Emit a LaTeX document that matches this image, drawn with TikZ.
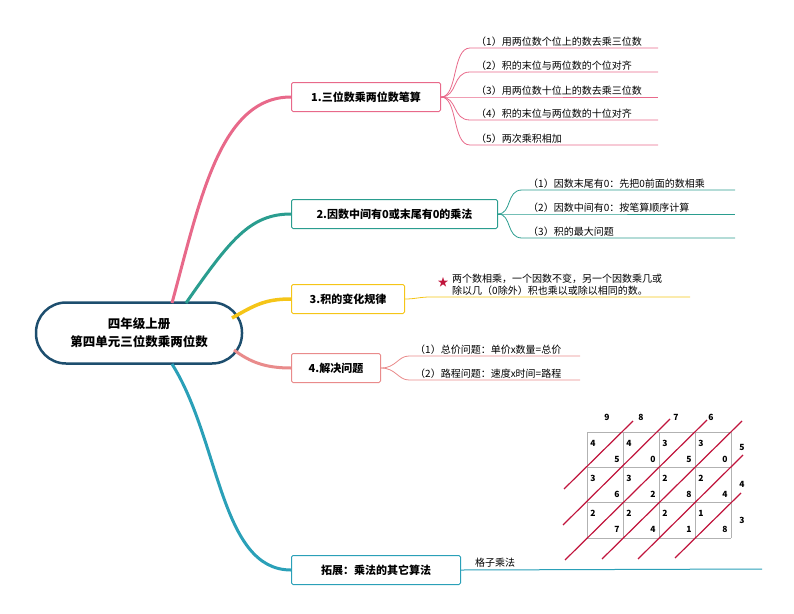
\documentclass[tikz,border=0pt]{standalone}
\usepackage{fontspec}
\setmainfont{Noto Sans CJK SC}
\usetikzlibrary{shapes.geometric}
\definecolor{cpink}{HTML}{E8698A}
\definecolor{cteal}{HTML}{2A9D8F}
\definecolor{cyel}{HTML}{F5C518}
\definecolor{csal}{HTML}{E98B8B}
\definecolor{cblue}{HTML}{2AA0B8}
\definecolor{cnavy}{HTML}{1D4E6E}
\definecolor{cred}{HTML}{C0143C}
\tikzset{
 br/.style={draw=#1,line width=1pt,rounded corners=1.5pt,minimum height=29pt,inner xsep=6pt,font=\fontsize{11}{13}\selectfont\bfseries,anchor=west},
 leaf/.style={font=\fontsize{10}{12}\selectfont,anchor=south west,inner sep=1pt},
 dig/.style={font=\fontsize{8.5}{10}\selectfont\bfseries,inner sep=0pt},
 diag/.style={draw=cred,line width=1.2pt}
}
\begin{document}
\begin{tikzpicture}[x=1pt,y=-1pt]
\useasboundingbox (0,0) rectangle (794,613);
% center
\node[draw=cnavy,line width=2.5pt,rounded corners=30pt,minimum width=206pt,minimum height=61pt,align=center,font=\fontsize{12.5}{18}\selectfont\bfseries] (c) at (139,333) {四年级上册\\第四单元三位数乘两位数};
% branches
\node[br=cpink,minimum width=149pt] (b1) at (291,97) {1.三位数乘两位数笔算};
\node[br=cteal,minimum width=206pt] (b2) at (291,214) {2.因数中间有0或末尾有0的乘法};
\node[br=cyel,minimum width=113pt] (b3) at (291,299) {3.积的变化规律};
\node[br=csal,minimum width=89pt] (b4) at (291,368) {4.解决问题};
\node[br=cblue,minimum width=169pt] (b5) at (291,570) {拓展：乘法的其它算法};
\coordinate (o1) at (172,303); \coordinate (o2) at (186,303);
\coordinate (o3) at (232,318); \coordinate (o4) at (234,350);
\coordinate (o5) at (172,364);
\draw[cpink,line width=3pt] (o1) .. controls (200,200) and (220,97) .. (b1.west);
\draw[cteal,line width=3pt] (o2) .. controls (230,240) and (250,214) .. (b2.west);
\draw[cyel,line width=3.5pt] (o3) .. controls (255,305) and (265,299) .. (b3.west);
\draw[csal,line width=3pt] (o4) .. controls (250,362) and (265,368) .. (b4.west);
\draw[cblue,line width=3pt] (o5) .. controls (220,440) and (220,570) .. (b5.west);
% branch 1 leaves
\foreach \y/\t [count=\i] in {48/（1）用两位数个位上的数去乘三位数,72/（2）积的末位与两位数的个位对齐,97/（3）用两位数十位上的数去乘三位数,120/（4）积的末位与两位数的十位对齐,145/（5）两次乘积相加}{
 \node[leaf] (l1\i) at (475,\y) {\t};
 \coordinate (e1\i) at (470,\y);
 \draw[cpink,line width=0.8pt] (b1.east) .. controls (458,97) and (452,\y) .. (e1\i) -- (658,\y);
}
% branch 2 leaves
\foreach \y/\t [count=\i] in {190/（1）因数末尾有0：先把0前面的数相乘,214/（2）因数中间有0：按笔算顺序计算,238/（3）积的最大问题}{
 \node[leaf] (l2\i) at (527,\y) {\t};
 \coordinate (e2\i) at (522,\y);
 \draw[cteal,line width=0.8pt] (b2.east) .. controls (512,214) and (506,\y) .. (e2\i) -- (735,\y);
}
% branch 3
\node[font=\fontsize{11}{11}\selectfont,text=cred,inner sep=0pt] (star) at (443,282) {★};
\node[leaf,align=left,anchor=south west] (l3) at (451,297) {两个数相乘，一个因数不变，另一个因数乘几或\\除以几（0除外）积也乘以或除以相同的数。};
\coordinate (e3) at (690,297);
\draw[cyel,line width=0.8pt] (b3.east) .. controls (415,299) and (420,297) .. (430,297) -- (e3);
% branch 4
\foreach \y/\t [count=\i] in {356/（1）总价问题：单价x数量=总价,380/（2）路程问题：速度x时间=路程}{
 \node[leaf] (l4\i) at (414,\y) {\t};
 \coordinate (e4\i) at (409,\y);
 \draw[csal,line width=0.8pt] (b4.east) .. controls (396,368) and (398,\y) .. (e4\i) -- (580,\y);
}
% branch 5
\node[leaf] (l5) at (474,569) {格子乘法};
\coordinate (e5) at (762,569);
\draw[cblue,line width=1pt] (b5.east) -- (e5);
% lattice
\foreach \i in {0,...,4}{\draw[gray!60,line width=0.6pt] ({587+36*\i},432) -- ({587+36*\i},538);}
\foreach \j in {0,...,3}{\draw[gray!60,line width=0.6pt] (587,{432+35.33*\j}) -- (731,{432+35.33*\j});}
\foreach \x/\d in {607/9,641/8,676/7,711/6}{\node[dig] at (\x,417) {\d};}
\foreach \y/\d in {447/5,484/4,520/3}{\node[dig] at (742,\y) {\d};}
\foreach \r/\row in {0/{4/5,4/0,3/5,3/0},1/{3/6,3/2,2/8,2/4},2/{2/7,2/4,2/1,1/8}}{
 \foreach \a/\b [count=\c from 0] in \row {
  \node[dig] at ({593+36*\c},{443+35.33*\r}) {\a};
  \node[dig] at ({617+36*\c},{459+35.33*\r}) {\b};
 }
}
\draw[diag] (564,489) -- (633,421);
\draw[diag] (563,525) -- (670,419);
\draw[diag] (565,560) -- (707,420);
\draw[diag] (602,559) -- (742,421);
\draw[diag] (638,559) -- (743,455);
\draw[diag] (675,558) -- (741,493);
\end{tikzpicture}
\end{document}
